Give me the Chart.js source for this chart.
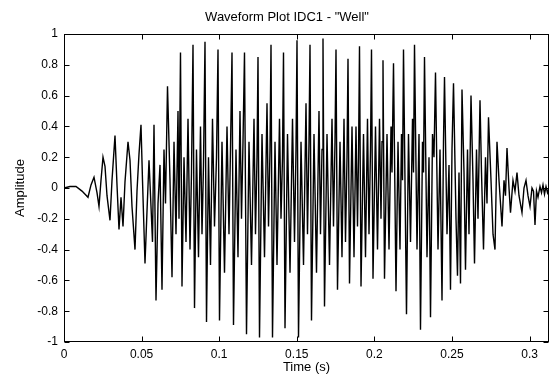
<!DOCTYPE html>
<html>
<head>
<meta charset="utf-8">
<script src="https://cdn.jsdelivr.net/npm/chart.js@4"></script>
<style>
  body { margin: 0; background: #fff; }
</style>
</head>
<body>
<canvas id="chart" width="552" height="377"></canvas>
<script>
/* waveform, time in seconds */

let titleText = 'Waveform Plot IDC1 - "Well"';
let xTitle = 'Time (s)';
let yTitle = 'Amplitude';

let time = [
  0, 0.00387, 0.00773, 0.01160, 0.01546, 0.01740, 0.01933, 0.02126, 0.02255, 0.02384,
  0.02513, 0.02642, 0.02771, 0.02964, 0.03093, 0.03286, 0.03415, 0.03544, 0.03673, 0.03802,
  0.03930, 0.04124, 0.04253, 0.04381, 0.04575, 0.04704, 0.04832, 0.04961, 0.05058, 0.05219,
  0.05348, 0.05477, 0.05606, 0.05702, 0.05799, 0.05928, 0.06057, 0.06186, 0.06314, 0.06443,
  0.06540, 0.06669, 0.06830, 0.06959, 0.07088, 0.07216, 0.07345, 0.07410, 0.07506, 0.07603,
  0.07732, 0.07861, 0.07990, 0.08119, 0.08215, 0.08312, 0.08409, 0.08537, 0.08666, 0.08795,
  0.08892, 0.08988, 0.09085, 0.09182, 0.09311, 0.09439, 0.09568, 0.09697, 0.09826, 0.09923,
  0.10019, 0.10180, 0.10342, 0.10503, 0.10631, 0.10728, 0.10825, 0.10921, 0.11082, 0.11211,
  0.11340, 0.11437, 0.11534, 0.11630, 0.11759, 0.11920, 0.12081, 0.12242, 0.12339, 0.12436,
  0.12500, 0.12597, 0.12758, 0.12919, 0.13080, 0.13177, 0.13273, 0.13338, 0.13434, 0.13595,
  0.13724, 0.13885, 0.13982, 0.14079, 0.14143, 0.14240, 0.14401, 0.14562, 0.14723, 0.14852,
  0.14948, 0.15013, 0.15110, 0.15271, 0.15432, 0.15593, 0.15689, 0.15786, 0.15851, 0.15947,
  0.16108, 0.16269, 0.16430, 0.16527, 0.16624, 0.16688, 0.16785, 0.16946, 0.17107, 0.17268,
  0.17365, 0.17461, 0.17526, 0.17622, 0.17784, 0.17912, 0.18041, 0.18138, 0.18235, 0.18299,
  0.18396, 0.18557, 0.18686, 0.18814, 0.18911, 0.18976, 0.19040, 0.19137, 0.19298, 0.19427,
  0.19555, 0.19652, 0.19749, 0.19813, 0.19910, 0.20071, 0.20200, 0.20329, 0.20425, 0.20490,
  0.20554, 0.20651, 0.20812, 0.20941, 0.21070, 0.21134, 0.21231, 0.21392, 0.21521, 0.21649,
  0.21746, 0.21811, 0.21875, 0.22068, 0.22197, 0.22326, 0.22455, 0.22519, 0.22584, 0.22745,
  0.22874, 0.22970, 0.23099, 0.23164, 0.23228, 0.23389, 0.23518, 0.23615, 0.23744, 0.23840,
  0.23937, 0.24098, 0.24227, 0.24356, 0.24452, 0.24517, 0.24678, 0.24807, 0.24903, 0.25000,
  0.25097, 0.25258, 0.25354, 0.25451, 0.25548, 0.25644, 0.25773, 0.25870, 0.25999, 0.26095,
  0.26224, 0.26353, 0.26450, 0.26579, 0.26675, 0.26804, 0.26901, 0.27030, 0.27158, 0.27255,
  0.27352, 0.27513, 0.27642, 0.27771, 0.27899, 0.28028, 0.28222, 0.28351, 0.28447, 0.28544,
  0.28673, 0.28769, 0.28930, 0.29059, 0.29188, 0.29317, 0.29510, 0.29639, 0.29768, 0.29897,
  0.30026, 0.30155, 0.30251, 0.30348, 0.30445, 0.30541, 0.30670, 0.30767, 0.30863, 0.30960,
  0.31057, 0.31153, 0.31250
];

let amplitude = [
  0.00, 0.01, 0.01, -0.02, -0.06, 0.02, 0.07, -0.03, -0.12, 0.05,
  0.20, 0.14, -0.05, -0.21, 0.05, 0.34, 0.02, -0.27, -0.06, -0.25,
  0.04, 0.30, 0.18, -0.12, -0.40, -0.02, 0.22, 0.41, 0.05, -0.49,
  -0.15, 0.18, -0.12, -0.35, 0.41, -0.73, -0.10, 0.15, -0.66, 0.25,
  -0.10, 0.66, 0.05, -0.58, 0.30, -0.30, 0.50, -0.20, 0.88, -0.64,
  0.20, -0.35, 0.45, -0.40, 0.10, 0.93, -0.78, 0.25, -0.45, 0.40,
  -0.30, 0.15, 0.95, -0.87, 0.20, -0.50, 0.45, -0.25, 0.20, 0.90,
  -0.86, 0.30, -0.55, 0.40, -0.30, 0.25, 0.88, -0.89, 0.25, -0.45,
  0.50, -0.20, 0.30, 0.88, -0.95, 0.30, -0.50, 0.45, -0.30, 0.20,
  0.85, -0.97, 0.35, -0.45, 0.55, -0.25, 0.25, 0.93, -0.97, 0.30,
  -0.50, 0.45, -0.20, 0.20, 0.88, -0.91, 0.35, -0.55, 0.45, -0.35,
  0.25, 0.96, -0.97, 0.30, -0.50, 0.55, -0.30, 0.30, 0.93, -0.86,
  0.35, -0.55, 0.50, -0.30, 0.25, 0.97, -0.77, 0.35, -0.50, 0.45,
  -0.25, 0.30, 0.90, -0.66, 0.30, -0.45, 0.45, -0.35, 0.20, 0.84,
  -0.62, 0.40, -0.45, 0.40, -0.25, 0.20, 0.92, -0.64, 0.35, -0.45,
  0.45, -0.30, 0.25, 0.90, -0.59, 0.40, -0.40, 0.45, -0.20, 0.30,
  0.83, -0.59, 0.35, -0.40, 0.40, 0.10, 0.81, -0.67, 0.30, -0.40,
  0.35, 0.05, 0.90, -0.82, 0.35, -0.35, 0.45, 0.10, 0.93, -0.40,
  0.35, -0.92, 0.30, 0.10, 0.85, -0.45, 0.20, -0.84, 0.35, 0.20,
  0.75, -0.40, 0.25, -0.73, 0.30, 0.72, -0.30, 0.15, -0.66, 0.25,
  0.68, -0.20, -0.57, 0.10, -0.62, 0.64, 0.10, -0.53, 0.25, -0.30,
  0.60, 0.05, -0.49, 0.25, -0.20, 0.57, 0.10, -0.40, 0.20, -0.10,
  0.46, 0.05, -0.30, -0.40, 0.30, 0.05, -0.25, 0.05, -0.05, 0.26,
  0.00, -0.16, 0.05, -0.02, 0.10, -0.05, -0.16, 0.00, 0.05, -0.05,
  -0.12, 0.00, -0.02, -0.24, -0.02, -0.06, 0.01, -0.03, 0.02, -0.04,
  0.01, -0.03, 0.00
];

let xRange = [0, 0.3125];
let yRange = [-1, 1];

Chart.defaults.font.family = '"Liberation Sans", Arial, sans-serif';
Chart.defaults.font.size = 12;
Chart.defaults.color = '#000';

// matlab style box with inward ticks + title
let frame = {
  id: 'frame',
  afterDraw(chart) {
    let ctx = chart.ctx;
    let a = chart.chartArea;
    let sx = chart.scales.x, sy = chart.scales.y;
    let L = Math.round(a.left) + 0.5, R = Math.round(a.right) - 0.5;
    let T = Math.round(a.top) + 0.5, B = Math.round(a.bottom) - 0.5;
    ctx.save();
    ctx.strokeStyle = '#000';
    ctx.lineWidth = 1;
    ctx.strokeRect(L, T, R - L, B - T);
    ctx.beginPath();
    sx.ticks.forEach(t => {
      let p = Math.round(sx.getPixelForValue(t.value)) + 0.5;
      ctx.moveTo(p, B); ctx.lineTo(p, B - 5);
      ctx.moveTo(p, T); ctx.lineTo(p, T + 5);
    });
    sy.ticks.forEach(t => {
      let p = Math.round(sy.getPixelForValue(t.value)) + 0.5;
      ctx.moveTo(L, p); ctx.lineTo(L + 5, p);
      ctx.moveTo(R, p); ctx.lineTo(R - 5, p);
    });
    ctx.stroke();
    ctx.fillStyle = '#000';
    ctx.font = '13px "Liberation Sans", Arial, sans-serif';
    ctx.textAlign = 'center';
    ctx.textBaseline = 'middle';
    ctx.fillText(titleText, 287, 17);
    ctx.restore();
  }
};

let ctx = document.getElementById('chart');
new Chart(ctx, {
  type: 'line',
  data: {
    datasets: [{
      data: time.map((t, i) => ({x: t, y: amplitude[i]})),
      borderColor: '#000',
      borderWidth: 1.4,
      pointRadius: 0,
      tension: 0,
      fill: false
    }]
  },
  options: {
    responsive: false,
    animation: false,
    layout: {padding: {top: 34, right: 3, left: 0, bottom: 0}},
    plugins: {legend: {display: false}, tooltip: {enabled: false}},
    scales: {
      x: {
        type: 'linear',
        min: xRange[0], max: xRange[1],
        grid: {display: false, drawTicks: false},
        border: {display: false},
        ticks: {
          stepSize: 0.05, includeBounds: false, autoSkip: false, maxRotation: 0, padding: 5,
          callback: v => String(Math.round(v * 100) / 100)
        },
        title: {display: true, text: xTitle, font: {size: 13}, padding: {top: 0, bottom: 2}},
        afterFit: s => { s.height = 35; }
      },
      y: {
        min: yRange[0], max: yRange[1],
        grid: {display: false, drawTicks: false},
        border: {display: false},
        ticks: {
          stepSize: 0.2, autoSkip: false, padding: 6,
          callback: v => String(Math.round(v * 10) / 10)
        },
        title: {display: true, text: yTitle, font: {size: 13}, padding: {top: 13, bottom: 0}},
        afterFit: s => { s.height; s.width = 64; }
      }
    }
  },
  plugins: [frame]
});
</script>
</body>
</html>
